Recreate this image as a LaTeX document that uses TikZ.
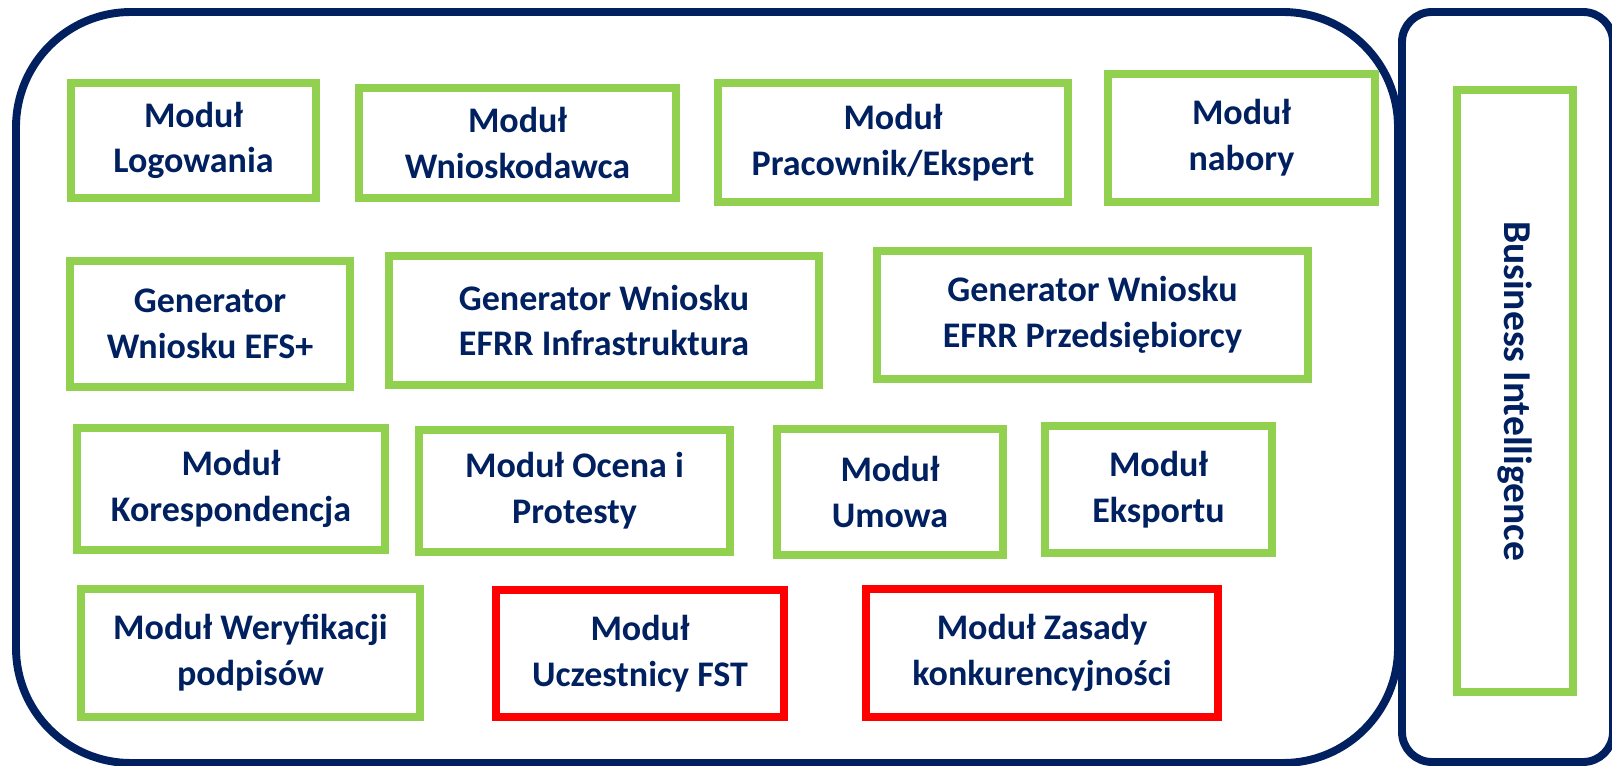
\documentclass[tikz,border=0pt]{standalone}
\usepackage{fontspec}
\setmainfont{Carlito}
\definecolor{navy}{HTML}{002060}
\definecolor{modgreen}{HTML}{92D050}
\definecolor{modred}{HTML}{FF0000}
\tikzset{
    frame/.style={draw=navy, line width=4.5pt},
    modbox/.style={draw=modgreen, line width=4.5pt, inner sep=0pt, align=center,
        text=navy, font=\fontsize{20.5}{26}\selectfont\bfseries},
    newbox/.style={modbox, draw=modred}
}
\begin{document}
\begin{tikzpicture}[x=0.02cm, y=-0.02cm]
    \useasboundingbox (0,0) rectangle (1612,766);
    % outer frames
    \draw[frame, rounded corners=2.3cm] (16,12) rectangle (1398,763);
    \draw[frame, rounded corners=0.6cm] (1402,12) rectangle (1613,762);
    % row 1
    \node[modbox, minimum width=4.90cm, minimum height=2.30cm] (logowania) at (193.5,140.5) {Moduł\\Logowania};
    \node[modbox, minimum width=6.34cm, minimum height=2.20cm] (wnioskodawca) at (517.5,143) {Moduł\\Wnioskodawca};
    \node[modbox, minimum width=7.00cm, minimum height=2.38cm] (pracownik) at (893,142.5) {Moduł\\Pracownik/Ekspert};
    \node[modbox, minimum width=5.34cm, minimum height=2.56cm] (nabory) at (1241.5,138) {Moduł\\nabory};
    % row 2
    \node[modbox, minimum width=5.60cm, minimum height=2.52cm] (efs) at (210,324) {Generator\\Wniosku EFS+};
    \node[modbox, minimum width=8.60cm, minimum height=2.58cm] (infra) at (604,320.5) {Generator Wniosku\\EFRR Infrastruktura};
    \node[modbox, minimum width=8.62cm, minimum height=2.56cm] (przeds) at (1092.5,315) {Generator Wniosku\\EFRR Przedsiębiorcy};
    % row 3
    \node[modbox, minimum width=6.16cm, minimum height=2.44cm] (koresp) at (231,489) {Moduł\\Korespondencja};
    \node[modbox, minimum width=6.22cm, minimum height=2.44cm] (ocena) at (574.5,491) {Moduł Ocena i\\Protesty};
    \node[modbox, minimum width=4.52cm, minimum height=2.52cm] (umowa) at (890,492) {Moduł\\Umowa};
    \node[modbox, minimum width=4.54cm, minimum height=2.54cm] (eksport) at (1158.5,489.5) {Moduł\\Eksportu};
    % row 4
    \node[modbox, minimum width=6.78cm, minimum height=2.56cm] (weryf) at (250.5,653) {Moduł Weryfikacji\\podpisów};
    \node[newbox, minimum width=5.76cm, minimum height=2.54cm] (fst) at (640,653.5) {Moduł\\Uczestnicy FST};
    \node[newbox, minimum width=7.04cm, minimum height=2.56cm] (zasady) at (1042,653) {Moduł Zasady\\konkurencyjności};
    % side column
    \node[modbox, rotate=-90, minimum width=12.04cm, minimum height=2.32cm,
        font=\fontsize{22.5}{27}\selectfont\bfseries] (bi) at (1515,391) {Business Intelligence};
\end{tikzpicture}
\end{document}
